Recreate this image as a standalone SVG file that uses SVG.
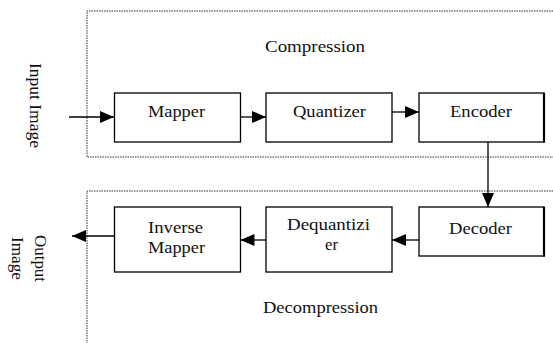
<svg xmlns="http://www.w3.org/2000/svg" width="553" height="343" viewBox="0 0 553 343">
<style>
.box{fill:#fff;stroke:#000;stroke-width:1.3}
.edge{stroke:#000;stroke-width:2.2}
.t{font-family:'Liberation Serif','DejaVu Serif','Times New Roman',serif;font-size:16px;fill:#111}
.dot{fill:none;stroke:#333;stroke-width:1;stroke-dasharray:1.5 1}
.ln{stroke:#000;stroke-width:1.3;fill:none}
</style>
<defs>
<marker id="ah" viewBox="0 0 14 12" refX="14" refY="6" markerWidth="14" markerHeight="12" markerUnits="userSpaceOnUse" orient="auto">
<path d="M0,0 L14,6 L0,12 Z" fill="#000"/>
</marker>
</defs>
<rect width="553" height="343" fill="#fff"/>
<g id="compression-region">
<path class="dot" d="M553,11 H87 V157 H553"/>
<text class="t" font-family="Liberation Serif, DejaVu Serif, serif" x="265" y="52" textLength="100" lengthAdjust="spacingAndGlyphs">Compression</text>
</g>
<g id="decompression-region">
<path class="dot" d="M553,191 H87 V343"/>
<text class="t" font-family="Liberation Serif, DejaVu Serif, serif" x="263" y="313" textLength="115" lengthAdjust="spacingAndGlyphs">Decompression</text>
</g>
<g id="input-image">
<text class="t" font-family="Liberation Serif, DejaVu Serif, serif" transform="translate(30,63) rotate(90)" font-size="17" textLength="85" lengthAdjust="spacingAndGlyphs">Input Image</text>
</g>
<g id="output-image">
<text class="t" font-family="Liberation Serif, DejaVu Serif, serif" transform="translate(35,235) rotate(90)" font-size="17" textLength="47" lengthAdjust="spacingAndGlyphs">Output</text>
<text class="t" font-family="Liberation Serif, DejaVu Serif, serif" transform="translate(12,237) rotate(90)" font-size="17" textLength="43" lengthAdjust="spacingAndGlyphs">Image</text>
</g>
<g id="mapper">
<rect class="box" x="114.5" y="93" width="126" height="49"/>
<text class="t" font-family="Liberation Serif, DejaVu Serif, serif" x="148" y="117" textLength="57" lengthAdjust="spacingAndGlyphs">Mapper</text>
</g>
<g id="quantizer">
<rect class="box" x="266" y="93" width="126" height="49"/>
<text class="t" font-family="Liberation Serif, DejaVu Serif, serif" x="293" y="117" textLength="73" lengthAdjust="spacingAndGlyphs">Quantizer</text>
</g>
<g id="encoder">
<rect class="box" x="419" y="93" width="125" height="49"/>
<line class="edge" x1="544" y1="93" x2="544" y2="142.6"/>
<text class="t" font-family="Liberation Serif, DejaVu Serif, serif" x="450" y="117" textLength="62" lengthAdjust="spacingAndGlyphs">Encoder</text>
</g>
<g id="decoder">
<rect class="box" x="419" y="207" width="125" height="49"/>
<line class="edge" x1="544" y1="207" x2="544" y2="256.6"/>
<text class="t" font-family="Liberation Serif, DejaVu Serif, serif" x="449" y="234" textLength="63" lengthAdjust="spacingAndGlyphs">Decoder</text>
</g>
<g id="dequantizer">
<rect class="box" x="266" y="207" width="126" height="65"/>
<text class="t" font-family="Liberation Serif, DejaVu Serif, serif" x="287" y="230" textLength="83" lengthAdjust="spacingAndGlyphs">Dequantizi</text>
<text class="t" font-family="Liberation Serif, DejaVu Serif, serif" x="325" y="250" textLength="13" lengthAdjust="spacingAndGlyphs">er</text>
</g>
<g id="inverse-mapper">
<rect class="box" x="114.5" y="207" width="126" height="65"/>
<text class="t" font-family="Liberation Serif, DejaVu Serif, serif" x="148" y="233" textLength="55" lengthAdjust="spacingAndGlyphs">Inverse</text>
<text class="t" font-family="Liberation Serif, DejaVu Serif, serif" x="148" y="253" textLength="57" lengthAdjust="spacingAndGlyphs">Mapper</text>
</g>
<g id="connectors">
<line class="ln" x1="69" y1="117" x2="114" y2="117" marker-end="url(#ah)"/>
<line class="ln" x1="240.5" y1="117" x2="266" y2="117" marker-end="url(#ah)"/>
<line class="ln" x1="392" y1="112" x2="419" y2="112" marker-end="url(#ah)"/>
<line class="ln" x1="488" y1="142" x2="488" y2="207" marker-end="url(#ah)"/>
<line class="ln" x1="419" y1="240" x2="392" y2="240" marker-end="url(#ah)"/>
<line class="ln" x1="266" y1="240" x2="240.5" y2="240" marker-end="url(#ah)"/>
<line class="ln" x1="114.5" y1="236" x2="72" y2="236" marker-end="url(#ah)"/>
</g>
</svg>
